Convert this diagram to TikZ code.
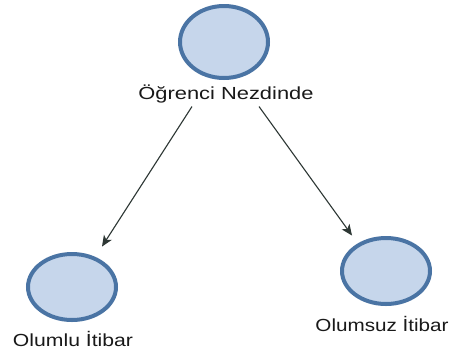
\documentclass[tikz,border=0pt]{standalone}
\usepackage{fontspec}
\setmainfont{Liberation Sans}
\usetikzlibrary{shapes.geometric,arrows.meta,calc}
\definecolor{ringblue}{RGB}{74,116,164}
\definecolor{fillblue}{RGB}{198,214,235}
\definecolor{arrowgray}{RGB}{45,55,52}
\tikzset{
  bubble/.style={ellipse,draw=ringblue,fill=fillblue,line width=4pt,inner sep=0pt,minimum width=88pt},
  lbl/.style={inner sep=0pt,anchor=base,font=\fontsize{17.5}{20}\selectfont,text=black!90},
  arr/.style={draw=arrowgray,line width=1.1pt,-{Stealth[length=11pt,width=9.5pt,inset=3pt]}}
}
\newcommand{\wide}[2]{\scalebox{#1}[1]{#2}}
\begin{document}
\begin{tikzpicture}[x=1pt,y=-1pt]
\useasboundingbox[fill=white] (0,0) rectangle (454,354);
\node[bubble,minimum height=72pt] (e0) at (224,42) {};
\node[lbl] (l0) at (226,99.5) {\wide{1.25}{Öğrenci Nezdinde}};
\node[bubble,minimum height=66pt] (e1) at (72,287) {};
\node[lbl] (l1) at (73,346) {\wide{1.21}{Olumlu İtibar}};
\node[bubble,minimum height=66pt] (e2) at (386,271) {};
\node[lbl] (l2) at (382,331) {\wide{1.18}{Olumsuz İtibar}};
\draw[arr] ($(l0.base)+(-34,7)$) -- ($(e1.north)+(30,-5.5)$);
\draw[arr] ($(l0.base)+(33,7)$) -- ($(e2.north)+(-34,-0.5)$);
\end{tikzpicture}
\end{document}
